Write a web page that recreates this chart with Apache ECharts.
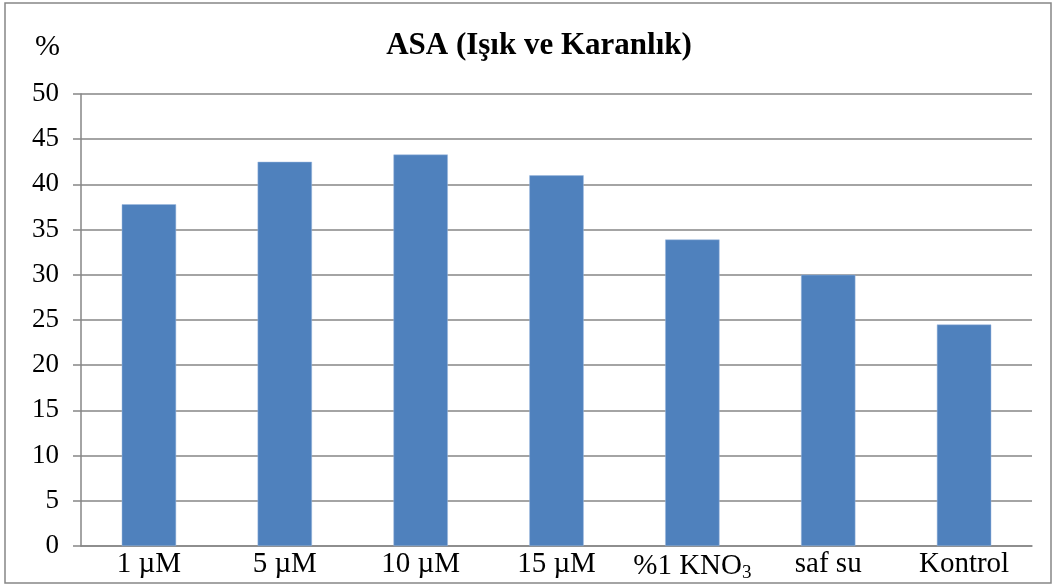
<!DOCTYPE html>
<html>
<head>
<meta charset="utf-8">
<script src="https://cdn.jsdelivr.net/npm/echarts@6/dist/echarts.min.js"></script>
<style>
  html, body { margin: 0; padding: 0; background: #fff; }
  #chart { width: 1058px; height: 588px; }
</style>
</head>
<body>
<div id="chart"></div>
<script>
// Treatment groups and ASA percentages (light and dark)
const categories = ['1 µM', '5 µM', '10 µM', '15 µM', '%1 KNO{sub|3}', 'saf su', 'Kontrol'];
const values = [37.8, 42.5, 43.3, 41.0, 33.9, 30.0, 24.5];
const yTicks = { min: 0, max: 50, interval: 5 };

const serif = '"Liberation Serif", "Times New Roman", serif';
const gridColor = '#868686';

const chart = echarts.init(document.getElementById('chart'));
chart.setOption({
  animation: false,
  backgroundColor: '#fff',
  title: {
    text: 'ASA (Işık ve Karanlık)',
    left: 534,
    top: 25,
    textAlign: 'center',
    textStyle: { fontFamily: serif, fontSize: 31, fontWeight: 'bold', color: '#000' }
  },
  graphic: [
    {
      type: 'rect',
      shape: { x: 5, y: 3, width: 1046, height: 580 },
      style: { fill: 'none', stroke: gridColor, lineWidth: 1.5 },
      silent: true
    },
    {
      type: 'text',
      left: 35,
      top: 32,
      style: { text: '%', font: '30px ' + serif, fill: '#000' }
    }
  ],
  grid: { left: 81, right: 26, top: 94, bottom: 42, containLabel: false },
  xAxis: {
    type: 'category',
    data: categories,
    axisLine: { lineStyle: { color: gridColor, width: 1.5 } },
    axisTick: { show: false },
    axisLabel: {
      color: '#000',
      fontFamily: serif,
      fontSize: 29,
      margin: 4,
      interval: 0,
      rich: {
        sub: { fontFamily: serif, fontSize: 19, verticalAlign: 'bottom', padding: [14, 0, 0, 0], color: '#000' }
      }
    }
  },
  yAxis: {
    type: 'value',
    min: yTicks.min,
    max: yTicks.max,
    interval: yTicks.interval,
    axisLine: { show: true, lineStyle: { color: gridColor, width: 1.5 } },
    axisTick: { show: true, length: 8, lineStyle: { color: gridColor, width: 1.5 } },
    axisLabel: { color: '#000', fontFamily: serif, fontSize: 27, margin: 22 },
    splitLine: { lineStyle: { color: gridColor, width: 1.5 } }
  },
  series: [{
    type: 'bar',
    data: values,
    barWidth: '40%',
    itemStyle: { color: '#4F81BD', borderColor: '#9DB9DF', borderWidth: 0.5 }
  }]
});
</script>
</body>
</html>
